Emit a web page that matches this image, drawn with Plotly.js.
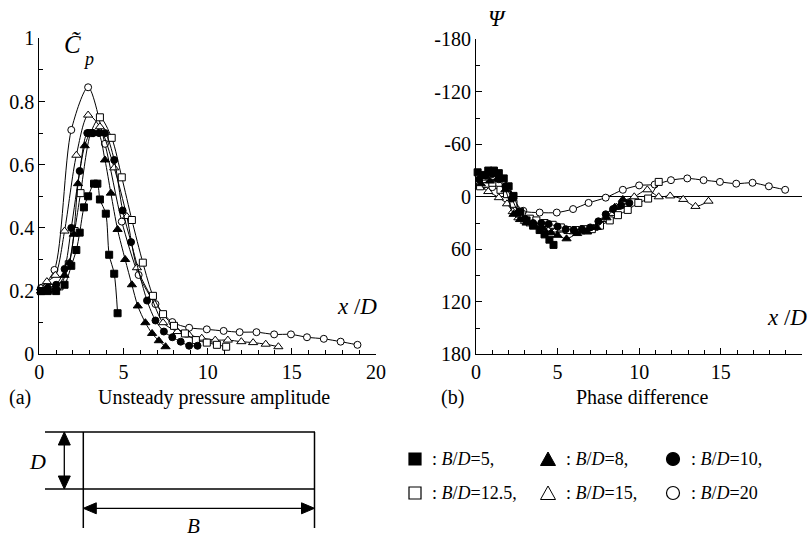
<!DOCTYPE html>
<html><head><meta charset="utf-8">
<script src="https://cdn.plot.ly/plotly-3.0.1.min.js"></script>
<style>html,body{margin:0;padding:0;background:#fff}#chart{width:812px;height:538px}</style>
</head><body><div id="chart"></div>
<script>
// ---- (a) Unsteady pressure amplitude ----
const xCp5   = [0.1,0.5,1.0,1.5,1.9,2.2,2.4,2.65,2.9,3.25,3.45,3.6,3.95,4.15,4.45,4.65];
const cp5    = [0.20,0.20,0.20,0.22,0.28,0.33,0.385,0.465,0.50,0.54,0.54,0.49,0.445,0.315,0.255,0.13];
const xCp8   = [0.1,0.5,1.0,1.5,1.8,2.05,2.3,2.7,3.05,3.5,3.9,4.25,4.65,5.1,5.5,5.85,6.3,6.7,7.1,7.5];
const cp8    = [0.20,0.20,0.21,0.25,0.29,0.38,0.54,0.66,0.70,0.70,0.615,0.51,0.395,0.30,0.22,0.153,0.10,0.066,0.043,0.024];
const xCp10  = [0.1,0.5,1.0,1.5,1.9,2.4,2.85,3.2,3.55,3.9,4.45,4.95,5.45,6.4,6.9,7.4,7.9,8.4,8.9,9.4];
const cp10   = [0.20,0.21,0.22,0.27,0.40,0.58,0.70,0.70,0.70,0.70,0.615,0.455,0.355,0.17,0.107,0.072,0.054,0.040,0.027,0.027];
const xCp125 = [0.1,0.6,1.2,1.75,2.1,2.45,3.05,3.6,4.3,4.9,5.5,6.15,6.75,7.35,8.0,8.65,9.3,9.95,10.55,11.1];
const cp125  = [0.20,0.21,0.215,0.285,0.39,0.51,0.70,0.75,0.685,0.56,0.425,0.29,0.185,0.127,0.09,0.066,0.045,0.037,0.03,0.024];
const xCp15  = [0.1,0.45,0.95,1.5,2.2,2.9,3.6,4.45,5.2,5.8,6.65,7.35,8.2,8.9,9.65,10.45,11.2,12.0,12.7,13.45,14.2];
const cp15   = [0.21,0.23,0.25,0.39,0.63,0.757,0.72,0.59,0.436,0.274,0.18,0.10,0.072,0.061,0.051,0.045,0.045,0.040,0.037,0.032,0.024];
const xCp20  = [0.1,0.9,1.9,2.9,3.9,4.9,5.9,6.9,7.9,8.9,9.95,10.95,11.9,12.9,13.95,14.95,15.9,16.9,17.9,18.9];
const cp20   = [0.21,0.267,0.71,0.845,0.666,0.42,0.251,0.159,0.102,0.084,0.079,0.074,0.070,0.070,0.063,0.063,0.054,0.049,0.040,0.030];

// ---- (b) Phase difference ----
const xPs5   = [0.1,0.4,0.75,1.1,1.4,1.7,2.0,2.3,2.7,3.1,3.5,3.9,4.2,4.5,4.75];
const ps5    = [-28,-25,-30,-30,-27,-21,-12,-1,17,27,33,38,43,49,55];
const xPs8   = [0.3,0.85,1.3,1.8,2.3,2.7,3.1,3.6,4.1,4.6,5.0,5.55,6.2,6.8,7.4,8.0,8.5,9.0];
const ps8    = [-15,-18,-20,-8,20,26,30,33,36,41,44,48,42,40,35,24,12,3];
const xPs10  = [0.2,0.6,1.0,1.4,1.8,2.2,2.6,3.0,3.5,4.0,4.45,5.0,5.5,6.0,6.5,7.0,7.5,7.95,8.4,8.9,9.4];
const ps10   = [-20,-24,-26,-20,-12,2,18,25,30,30,31,34,37,38,37,35,28,20,14,10,7];
const xPs125 = [0.25,0.6,1.0,1.5,1.9,2.3,2.8,3.3,3.7,4.2,4.7,5.2,5.6,6.1,6.6,7.1,7.6,8.2,8.7,9.3,9.95,10.55,11.2];
const ps125  = [-12,-15,-16,-8,-3,8,20,25,27,30,32,35,38,38,37,37,33,27,21,15,7,2,-17];
const xPs15  = [0.25,0.75,1.4,1.9,2.25,2.6,3.0,3.35,3.7,4.1,4.5,4.9,5.2,5.6,6.0,6.4,6.8,7.2,7.5,7.9,8.25,8.6,9.0,9.7,10.5,11.2,11.9,12.7,13.45,14.25];
const ps15   = [-12,-6,1,8,17,24,28,31,33,35,37,38,38,38,40,40,40,36,32,26,19,12,5,0,-8,0,-1,3,11,5];
const xPs20  = [0.5,1.0,2.0,2.9,3.9,4.95,5.95,6.9,7.95,9.0,10.0,10.95,11.95,12.95,13.95,14.95,15.95,16.95,17.95,18.95];
const ps20   = [-14,-11,-3,16,18,18,14,7,1,-8,-13,-14,-19,-21,-19,-17,-15,-16,-12,-8];

// tick labels
const psiTickVals = [-180,-120,-60,0,60,120,180];
const psiTickText = ['-180','-120','-60','0','60','120','180'];
const psiMinorVals = [-150,-90,-30,30,90,150];
// legend entries
const legendLabels = [': <i>B</i>/<i>D</i>=5,', ': <i>B</i>/<i>D</i>=8,', ': <i>B</i>/<i>D</i>=10,',
                      ': <i>B</i>/<i>D</i>=12.5,', ': <i>B</i>/<i>D</i>=15,', ': <i>B</i>/<i>D</i>=20'];

const W = 812, H = 538;
const PX = x => x / W;
const PY = y => 1 - y / H;
const FONT = '"Liberation Serif", "Times New Roman", Times, serif';

const styles = {
  s5:   {symbol:'square', size:7, color:'black', line:{color:'black', width:1}},
  s8:   {symbol:'triangle-up', size:8, color:'black', line:{color:'black', width:1}},
  s10:  {symbol:'circle', size:7, color:'black', line:{color:'black', width:1}},
  s125: {symbol:'square', size:7, color:'white', line:{color:'black', width:1}},
  s15:  {symbol:'triangle-up', size:8, color:'white', line:{color:'black', width:1}},
  s20:  {symbol:'circle', size:7, color:'white', line:{color:'black', width:1}}
};
function tr(x, y, m, xa, ya) {
  return {x:x, y:y, xaxis:xa, yaxis:ya, type:'scatter', mode:'lines+markers',
          line:{color:'black', width:1, shape:'spline', smoothing:0.8},
          marker:m, cliponaxis:false, showlegend:false, hoverinfo:'skip'};
}
const data = [
  tr(xCp20, cp20, styles.s20, 'x', 'y'),
  tr(xCp15, cp15, styles.s15, 'x', 'y'),
  tr(xCp125, cp125, styles.s125, 'x', 'y'),
  tr(xCp10, cp10, styles.s10, 'x', 'y'),
  tr(xCp8, cp8, styles.s8, 'x', 'y'),
  tr(xCp5, cp5, styles.s5, 'x', 'y'),
  tr(xPs20, ps20, styles.s20, 'x2', 'y2'),
  tr(xPs15, ps15, styles.s15, 'x2', 'y2'),
  tr(xPs125, ps125, styles.s125, 'x2', 'y2'),
  tr(xPs10, ps10, styles.s10, 'x2', 'y2'),
  tr(xPs8, ps8, styles.s8, 'x2', 'y2'),
  tr(xPs5, ps5, styles.s5, 'x2', 'y2')
];

const tickFont = {family:FONT, size:20, color:'black'};
const axBase = {showline:true, linecolor:'black', linewidth:1, ticks:'inside', ticklen:6, tickcolor:'black',
  tickwidth:1, showgrid:false, zeroline:false, tickfont:tickFont, fixedrange:true};

const xDom1 = [PX(39.3), PX(376)], yDom1 = [PY(354.3), PY(38.3)];
const xDom2 = [PX(476), PX(802.3)], yDom2 = [PY(354.3), PY(39.3)];

const layout = {
  width:W, height:H, margin:{l:0, r:0, t:0, b:0},
  paper_bgcolor:'white', plot_bgcolor:'rgba(0,0,0,0)', showlegend:false,
  font:{family:FONT, color:'black'},
  xaxis: Object.assign({}, axBase, {domain:xDom1, anchor:'y', range:[0,20], tick0:0, dtick:5,
    minor:{dtick:1, tick0:0, ticks:'inside', ticklen:4, tickcolor:'black'}}),
  yaxis: Object.assign({}, axBase, {domain:yDom1, anchor:'x', range:[0,1], tick0:0, dtick:0.2,
    minor:{dtick:0.1, tick0:0, ticks:'inside', ticklen:4, tickcolor:'black'}}),
  xaxis2: Object.assign({}, axBase, {domain:xDom2, anchor:'y2', range:[0,20], tick0:0, dtick:5,
    minor:{dtick:1, tick0:0, ticks:'inside', ticklen:4, tickcolor:'black'}}),
  yaxis2: Object.assign({}, axBase, {domain:yDom2, anchor:'x2', range:[180,-180],
    tickmode:'array', tickvals:psiTickVals, ticktext:psiTickText,
    minor:{tickmode:'array', tickvals:psiMinorVals, ticks:'inside', ticklen:4, tickcolor:'black'},
    zeroline:true, zerolinecolor:'black', zerolinewidth:1}),
  annotations:[],
  shapes:[]
};

function ann(x, y, text, size, opts) {
  layout.annotations.push(Object.assign({xref:'paper', yref:'paper', x:PX(x), y:PY(y), text:text,
    showarrow:false, xanchor:'center', yanchor:'middle', font:{family:FONT, size:size, color:'black'}}, opts||{}));
}
// panel texts
ann(20, 397, '(a)', 20);
ann(214, 397, 'Unsteady pressure amplitude', 20);
ann(452, 397, '(b)', 20);
ann(642, 397, 'Phase difference', 20);
ann(72, 45, '<i>C\u0303</i>', 25);
ann(88, 59, '<i>p</i>', 18);
ann(497, 18, '<i>Ψ</i>', 23);
ann(357, 306, '<i>x</i> /<i>D</i>', 23);
ann(787, 317, '<i>x</i> /<i>D</i>', 23);

// bottom diagram
function line(x0, y0, x1, y1, w) {
  layout.shapes.push({type:'line', xref:'paper', yref:'paper', x0:PX(x0), y0:PY(y0), x1:PX(x1), y1:PY(y1),
    line:{color:'black', width:w||1.5}});
}
function poly(pts, fill) {
  const d = 'M' + pts.map(p => PX(p[0]) + ',' + PY(p[1])).join(' L') + ' Z';
  layout.shapes.push({type:'path', xref:'paper', yref:'paper', path:d, fillcolor:fill, line:{color:'black', width:1}});
}
line(45, 432, 315, 432);
line(45, 489, 315, 489);
line(83.3, 432, 83.3, 528);
line(314.5, 432, 314.5, 528);
line(64.3, 440, 64.3, 481, 1.3);
poly([[64.3,432],[58.3,445],[70.3,445]], 'black');
poly([[64.3,489],[58.3,476],[70.3,476]], 'black');
line(92, 508.3, 306, 508.3, 1.3);
poly([[83.3,508.3],[96.3,502.8],[96.3,513.8]], 'black');
poly([[314.5,508.3],[301.5,502.8],[301.5,513.8]], 'black');
ann(37, 461.5, '<i>D</i>', 22);
ann(193, 526, '<i>B</i>', 21);

// legend
const legSymX = [415, 548, 673];
const legTxtX = [430, 564, 689];
const legRowY = [459, 493];
function sym(kind, cx, cy, fill) {
  if (kind === 'sq') {
    layout.shapes.push({type:'rect', xref:'paper', yref:'paper', x0:PX(cx-6), x1:PX(cx+6), y0:PY(cy+6), y1:PY(cy-6),
      fillcolor:fill, line:{color:'black', width:1.2}});
  } else if (kind === 'tri') {
    poly([[cx, cy-7], [cx-7.5, cy+6.5], [cx+7.5, cy+6.5]], fill);
  } else {
    layout.shapes.push({type:'circle', xref:'paper', yref:'paper', x0:PX(cx-6.5), x1:PX(cx+6.5), y0:PY(cy+6.5), y1:PY(cy-6.5),
      fillcolor:fill, line:{color:'black', width:1.2}});
  }
}
const kinds = ['sq','tri','circ'];
for (let r = 0; r < 2; r++) {
  for (let c = 0; c < 3; c++) {
    sym(kinds[c], legSymX[c], legRowY[r], r === 0 ? 'black' : 'white');
    ann(legTxtX[c], legRowY[r], legendLabels[r*3 + c], 18, {xanchor:'left'});
  }
}

Plotly.newPlot('chart', data, layout, {staticPlot:true, displayModeBar:false});
</script></body></html>
